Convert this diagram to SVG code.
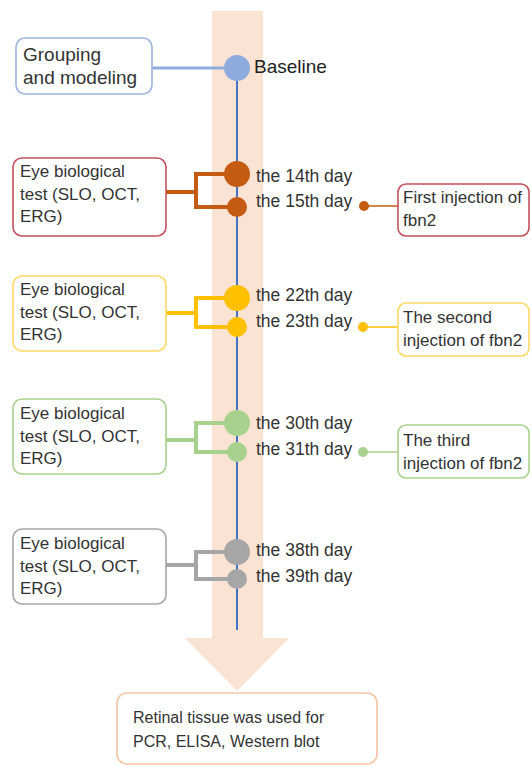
<svg xmlns="http://www.w3.org/2000/svg" width="532" height="766" viewBox="0 0 532 766">
<style>
text{font-family:"Liberation Sans",Arial,sans-serif;fill:#333}
.t{font-size:17px}
.d{font-size:17.5px}
.box{fill:#fff;stroke-width:1.6}
.br{fill:none;stroke-width:4}
.thin{fill:none;stroke-width:1.6}
</style>
<rect width="532" height="766" fill="#fff"/>
<g id="band">
<polygon points="212,11 263,11 263,638 289,638 237,691 185,638 212,638" fill="#fbe3d3"/>
</g>
<g id="connectors">
<line x1="237" y1="68" x2="237" y2="630" stroke="#4472c4" stroke-width="2"/>
<line x1="152" y1="68" x2="237" y2="68" stroke="#8faadc" stroke-width="3"/>
<path class="br" stroke="#c55a11" d="M166,192 H196 M226,174 H196 V207 H228"/>
<path class="br" stroke="#ffc000" d="M166,313 H196 M226,298 H196 V327 H228"/>
<path class="br" stroke="#a9d18e" d="M166,440 H196 M226,423 H196 V452 H228"/>
<path class="br" stroke="#a6a6a6" d="M166,565 H196 M226,552 H196 V579 H228"/>
<line class="thin" stroke="#c55a11" x1="364" y1="206" x2="398" y2="206"/>
<line class="thin" stroke="#ffc000" x1="363" y1="327" x2="398" y2="327"/>
<line class="thin" stroke="#a9d18e" x1="363" y1="452" x2="398" y2="452"/>
</g>
<g id="baseline">
<circle cx="237" cy="68" r="13" fill="#8faadc"/>
<text x="254" y="73" style="font-size:19px;fill:#222">Baseline</text>
</g>
<g id="grouping">
<rect class="box" x="16" y="38" width="136" height="56" rx="9" stroke="#9db5e0"/>
<text x="23" y="61" style="font-size:19px">Grouping</text>
<text x="23" y="84" style="font-size:19px">and modeling</text>
</g>
<g id="day14">
<circle cx="237" cy="174" r="13" fill="#c55a11"/>
<circle cx="237" cy="207" r="10" fill="#c55a11"/>
<text class="d" x="256" y="182">the 14th day</text>
<text class="d" x="256" y="207">the 15th day</text>
</g>
<g id="test1">
<rect class="box" x="13" y="158" width="153" height="78" rx="9" stroke="#c4505a"/>
<text class="t" x="20" y="177">Eye biological</text>
<text class="t" x="20" y="200">test (SLO, OCT,</text>
<text class="t" x="20" y="222">ERG)</text>
</g>
<g id="inj1">
<circle cx="364" cy="206" r="5" fill="#c55a11"/>
<rect class="box" x="398" y="184" width="131" height="52" rx="8" stroke="#c4505a"/>
<text class="t" x="403" y="203">First injection of</text>
<text class="t" x="403" y="226">fbn2</text>
</g>
<g id="day22">
<circle cx="237" cy="298" r="13" fill="#ffc000"/>
<circle cx="237" cy="327" r="10" fill="#ffc000"/>
<text class="d" x="256" y="301">the 22th day</text>
<text class="d" x="256" y="327">the 23th day</text>
</g>
<g id="test2">
<rect class="box" x="13" y="276" width="153" height="75" rx="9" stroke="#ffd966"/>
<text class="t" x="20" y="295">Eye biological</text>
<text class="t" x="20" y="318">test (SLO, OCT,</text>
<text class="t" x="20" y="340">ERG)</text>
</g>
<g id="inj2">
<circle cx="363" cy="327" r="5" fill="#ffc000"/>
<rect class="box" x="398" y="303" width="131" height="53" rx="8" stroke="#ffd966"/>
<text class="t" x="403" y="323">The second</text>
<text class="t" x="403" y="346">injection of fbn2</text>
</g>
<g id="day30">
<circle cx="237" cy="423" r="13" fill="#a9d18e"/>
<circle cx="237" cy="452" r="10" fill="#a9d18e"/>
<text class="d" x="256" y="429">the 30th day</text>
<text class="d" x="256" y="455">the 31th day</text>
</g>
<g id="test3">
<rect class="box" x="13" y="399" width="153" height="75" rx="9" stroke="#a9d18e"/>
<text class="t" x="20" y="419">Eye biological</text>
<text class="t" x="20" y="442">test (SLO, OCT,</text>
<text class="t" x="20" y="464">ERG)</text>
</g>
<g id="inj3">
<circle cx="363" cy="452" r="5" fill="#a9d18e"/>
<rect class="box" x="398" y="425" width="131" height="53" rx="8" stroke="#a9d18e"/>
<text class="t" x="403" y="446">The third</text>
<text class="t" x="403" y="469">injection of fbn2</text>
</g>
<g id="day38">
<circle cx="237" cy="552" r="13" fill="#a6a6a6"/>
<circle cx="237" cy="579" r="10" fill="#a6a6a6"/>
<text class="d" x="256" y="556">the 38th day</text>
<text class="d" x="256" y="582">the 39th day</text>
</g>
<g id="test4">
<rect class="box" x="13" y="529" width="153" height="75" rx="9" stroke="#a6a6a6"/>
<text class="t" x="20" y="549">Eye biological</text>
<text class="t" x="20" y="572">test (SLO, OCT,</text>
<text class="t" x="20" y="594">ERG)</text>
</g>
<g id="result">
<rect class="box" x="117" y="693" width="260" height="71" rx="10" stroke="#f4c4a4"/>
<text x="133" y="723" style="font-size:16px">Retinal tissue was used for</text>
<text x="133" y="747" style="font-size:16px">PCR, ELISA, Western blot</text>
</g>
</svg>
